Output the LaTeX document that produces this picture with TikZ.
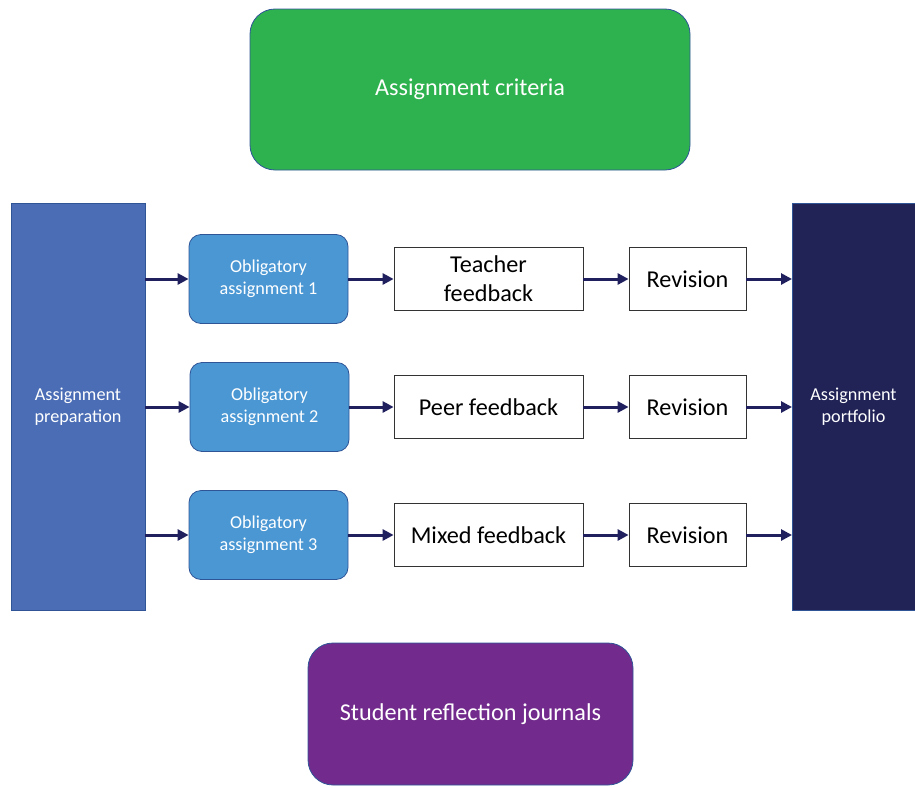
\documentclass[tikz,border=0pt]{standalone}
\usepackage{fontspec}
\setmainfont{Carlito}
\usetikzlibrary{arrows.meta}
\definecolor{cgreen}{HTML}{2EB24F}
\definecolor{cpurple}{HTML}{722B8D}
\definecolor{cprep}{HTML}{4A6DB5}
\definecolor{cport}{HTML}{212357}
\definecolor{cobl}{HTML}{4A97D4}
\definecolor{cedge}{HTML}{2F5597}
\definecolor{carrow}{HTML}{20205F}
\begin{document}
\begin{tikzpicture}[x=1pt,y=-1pt,
  bigbox/.style={draw=cedge,line width=0.8pt,rounded corners=25pt,text=white,font=\fontsize{24.2}{28}\selectfont},
  sidebox/.style={draw=cedge,line width=0.8pt,text=white,align=center,font=\fontsize{18.2}{22}\selectfont},
  oblbox/.style={draw=cedge,line width=0.8pt,fill=cobl,rounded corners=12pt,text=white,align=center,font=\fontsize{18.2}{22}\selectfont},
  whitebox/.style={draw=black!80,line width=0.8pt,fill=white,align=center,font=\fontsize{24.2}{29}\selectfont},
  conn/.style={draw=carrow,line width=3pt,-{Triangle[length=11pt,width=11pt]}}
]
\useasboundingbox (0,0) rectangle (915,787);
\node[bigbox,fill=cgreen,minimum width=440pt,minimum height=161pt] (crit) at (470,89.5) {Assignment criteria};
\node[bigbox,fill=cpurple,minimum width=325pt,minimum height=142pt] (journ) at (470.5,714) {Student reflection journals};
\node[sidebox,fill=cprep,minimum width=134pt,minimum height=407pt] (prep) at (78,406.5) {Assignment\\preparation};
\node[sidebox,fill=cport,minimum width=123pt,minimum height=407pt] (port) at (853.5,406.5) {Assignment\\portfolio};
\foreach \i/\y/\xo/\fb in {1/279/268.5/{Teacher\\feedback},2/407/269.5/{Peer feedback},3/535/268.5/{Mixed feedback}}{
  \node[oblbox,minimum width=159pt,minimum height=89pt] (obl\i) at (\xo,\y) {Obligatory\\assignment \i};
  \node[whitebox,minimum width=189pt,minimum height=63pt,inner sep=0pt] (fb\i) at (488.5,\y) {\fb};
  \node[whitebox,minimum width=117pt,minimum height=63pt] (rev\i) at (687.5,\y) {Revision};
  \coordinate (pl\i) at (145,\y);
  \coordinate (pr\i) at (792,\y);
  \draw[conn] (pl\i) -- (obl\i.west);
  \draw[conn] (obl\i.east) -- (fb\i.west);
  \draw[conn] (fb\i.east) -- (rev\i.west);
  \draw[conn] (rev\i.east) -- (pr\i);
}
\end{tikzpicture}
\end{document}
